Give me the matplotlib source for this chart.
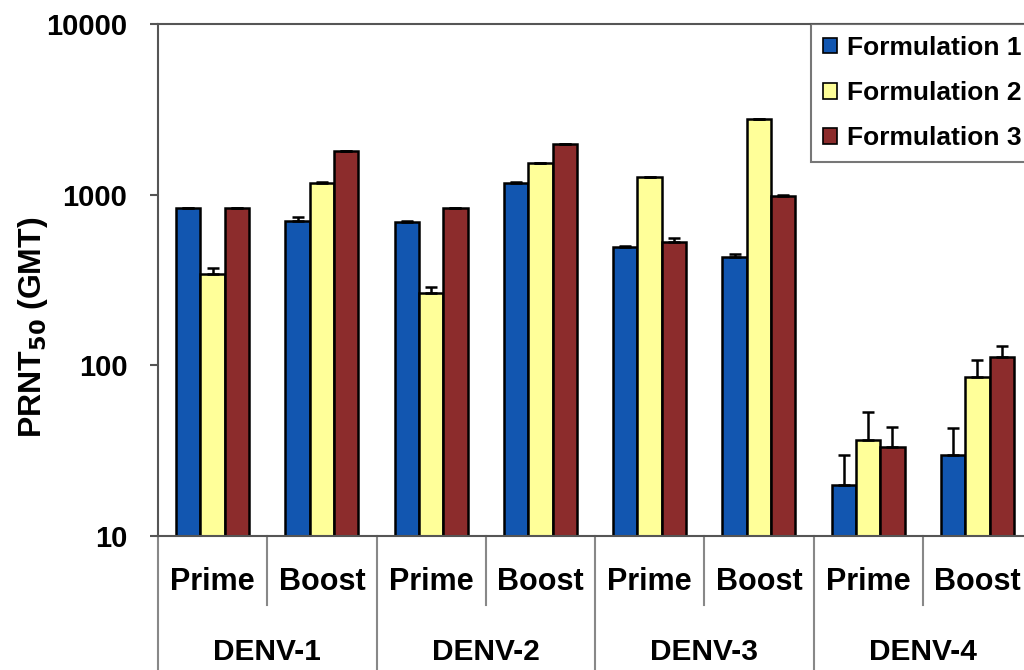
import numpy as np
import matplotlib.pyplot as plt
from matplotlib.lines import Line2D
from matplotlib.patches import Patch

plt.rcParams['font.family'] = ['Liberation Sans', 'DejaVu Sans']
plt.rcParams['font.weight'] = 'bold'

# data: geometric mean titers with upper error
phases = ['Prime', 'Boost'] * 4
serotypes = ['DENV-1', 'DENV-2', 'DENV-3', 'DENV-4']
series = ['Formulation 1', 'Formulation 2', 'Formulation 3']
f1 = [832, 704, 689, 1165, 491, 430, 20, 30]
f2 = [343, 1175, 264, 1527, 1275, 2776, 36.5, 86]
f3 = [832, 1802, 832, 1974, 531, 986, 33.4, 112]
f1_err = [5, 40, 10, 15, 12, 20, 10, 13]
f2_err = [27, 8, 22, 0, 0, 0, 16.5, 21]
f3_err = [6, 0, 6, 0, 30, 8, 10, 18]
colors = ['#1256b0', '#ffff99', '#8c2c2c']

fig = plt.figure(figsize=(10.24, 6.7), dpi=100)
ax = fig.add_axes([158/1024, 1 - 536/670, 874/1024, 512/670])

x = np.arange(len(phases))
w = 0.223
for i, (vals, errs, c) in enumerate(zip([f1, f2, f3], [f1_err, f2_err, f3_err], colors)):
    pos = x + (i - 1) * w
    ax.bar(pos, vals, width=w, color=c, edgecolor='black', linewidth=1.8, zorder=2)
    ax.errorbar(pos, vals, yerr=[np.zeros(len(vals)), errs], fmt='none',
                ecolor='black', elinewidth=1.8, capsize=4, capthick=1.8, zorder=3)

ax.set_yscale('log')
ax.set_ylim(10, 10000)
ax.set_xlim(-0.5, len(phases) - 0.5)
ax.yaxis.set_minor_locator(plt.NullLocator())
ax.set_yticks([10, 100, 1000, 10000])
ax.set_yticklabels(['10', '100', '1000', '10000'])
ax.tick_params(axis='y', length=6, width=1.5, pad=16, labelsize=21, color='#555555')
ax.set_xticks([])
for s in ax.spines.values():
    s.set_color('#555555')
    s.set_linewidth(1.5)

ax.set_ylabel(r'PRNT$_\mathbf{50}$ (GMT)', fontsize=23, fontweight='bold')
ax.yaxis.set_label_coords(-0.124, 0.408)

# category labels below the axis
trans = ax.get_xaxis_transform()
for xi, p in zip(x, phases):
    ax.text(xi, -0.09, p, transform=trans, ha='center', va='center', fontsize=22)
for k, s in enumerate(serotypes):
    ax.text(2 * k + 0.5, -0.227, s, transform=trans, ha='center', va='center', fontsize=21.5)
for b in np.arange(0.5, len(phases), 1.0):
    low = -0.135 if int(b) % 2 == 0 else -0.4
    ax.add_line(Line2D([b, b], [0, low], transform=trans, color='#888888',
                       linewidth=1.5, clip_on=False))
ax.add_line(Line2D([-0.5, -0.5], [0, -0.4], transform=trans, color='#888888',
                   linewidth=1.5, clip_on=False))

handles = [Patch(facecolor=c, edgecolor='black', linewidth=1.2) for c in colors]
leg = ax.legend(handles, series, loc='upper left', bbox_to_anchor=(811/1024, 1 - 24/670),
                bbox_transform=fig.transFigure, borderaxespad=0, fancybox=False,
                handlelength=0.55, handleheight=0.55, handletextpad=0.35,
                labelspacing=0.8, borderpad=0.45, fontsize=19)
leg.get_frame().set_edgecolor('#555555')
leg.get_frame().set_linewidth(1.5)

fig.savefig('out.png', dpi=100)
